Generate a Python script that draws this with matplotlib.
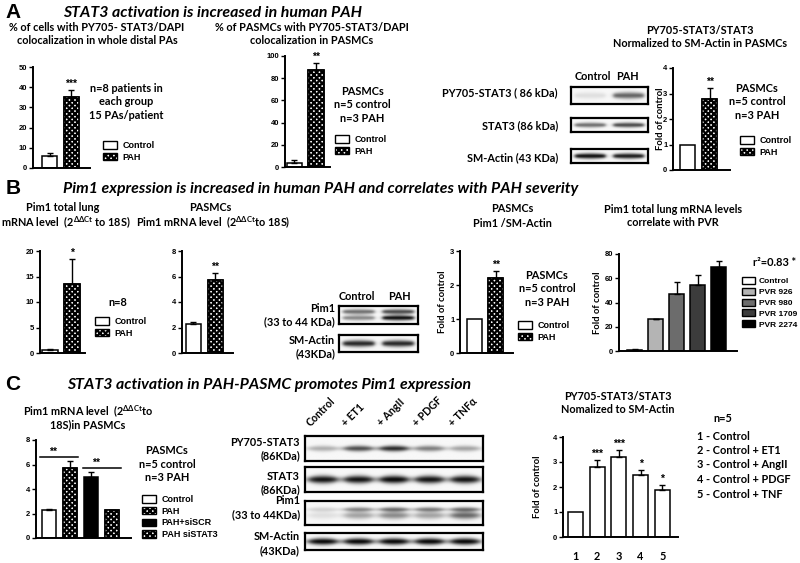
import numpy as np
import matplotlib
matplotlib.use("Agg")
import matplotlib.pyplot as plt
from matplotlib.patches import Patch
from matplotlib.font_manager import FontProperties

W, H = 800, 563

# ---- data -------------------------------------------------------------
A1_LABELS = ["Control", "PAH"]
A1_VALUES = [6.0, 35.0]
A1_ERR = [1.5, 3.5]
A1_STARS = ["", "***"]

A2_VALUES = [4.0, 87.0]
A2_ERR = [2.0, 7.0]
A2_STARS = ["", "**"]

A3_VALUES = [1.0, 2.78]
A3_ERR = [0.0, 0.45]
A3_STARS = ["", "**"]

B1_VALUES = [0.5, 13.5]
B1_ERR = [0.2, 5.0]
B1_STARS = ["", "*"]

B2_VALUES = [2.25, 5.75]
B2_ERR = [0.15, 0.5]
B2_STARS = ["", "**"]

B3_VALUES = [1.0, 2.2]
B3_ERR = [0.0, 0.22]
B3_STARS = ["", "**"]

B4_LABELS = ["Control", "PVR 926", "PVR 980", "PVR 1709", "PVR 2274"]
B4_VALUES = [1.0, 26.0, 47.0, 54.5, 69.0]
B4_ERR = [0.3, 0.5, 9.5, 8.0, 5.0]

C1_LABELS = ["Control", "PAH", "PAH+siSCR", "PAH siSTAT3"]
C1_VALUES = [2.25, 5.75, 5.0, 2.25]
C1_ERR = [0.15, 0.5, 0.35, 0.06]

C3_TICKS = ["1", "2", "3", "4", "5"]
C3_VALUES = [1.0, 2.8, 3.2, 2.5, 1.9]
C3_ERR = [0.0, 0.28, 0.3, 0.18, 0.2]
C3_STARS = ["", "***", "***", "*", "*"]
C3_KEY = ["1 - Control", "2 - Control + ET1", "3 - Control + AngII",
          "4 - Control + PDGF", "5 - Control + TNF"]

# western blot band intensities per lane (0 = none, 1 = saturated)
A_BLOT_PY = [0.10, 0.60]
A_BLOT_STAT3 = [0.55, 0.70]
A_BLOT_ACTIN = [0.95, 0.90]
B_BLOT_PIM1_UP = [0.55, 0.70]
B_BLOT_PIM1_LOW = [0.45, 0.95]
B_BLOT_ACTIN = [0.85, 0.85]
C_LANES = ["Control", "+ ET1", "+ AngII", "+ PDGF", "+ TNF\u03b1"]
C_BLOT_PY = [0.30, 0.70, 0.85, 0.50, 0.35]
C_BLOT_STAT3 = [0.95, 0.95, 1.00, 0.95, 0.95]
C_BLOT_PIM1_UP = [0.15, 0.45, 0.55, 0.50, 0.55]
C_BLOT_PIM1_LOW = [0.10, 0.35, 0.45, 0.35, 0.60]
C_BLOT_ACTIN = [1.0, 1.0, 1.0, 1.0, 1.0]

# ---- style ------------------------------------------------------------
plt.rcParams["font.family"] = ["Lato", "DejaVu Sans"]
plt.rcParams["font.weight"] = "bold"
plt.rcParams["mathtext.fontset"] = "custom"
plt.rcParams["mathtext.rm"] = "Lato:bold"
plt.rcParams["mathtext.bf"] = "Lato:bold"
plt.rcParams["mathtext.it"] = "Lato:bold:italic"
plt.rcParams["hatch.linewidth"] = 1.6

TICK_FONT = FontProperties(family="Liberation Sans", weight="bold", size=5.5)
LEG_FONT = FontProperties(family="Liberation Sans", weight="bold", size=6.5)
LEG_FONT_SMALL = FontProperties(family="Liberation Sans", weight="bold", size=6.0)
STAR_FONT = FontProperties(family="Liberation Sans", weight="bold", size=7.5)
CHECK = "xxxxxx"
DELTA = r"$2^{\mathbf{\Delta\Delta Ct}}$"
SUB = 7.8      # sub-panel titles
NOTE = 7.9     # n= annotations
BLOT = 7.8     # blot labels
TITLE = 11.4


def px_axes(fig, x0, y0, x1, y1):
    return fig.add_axes([x0 / W, 1 - y1 / H, (x1 - x0) / W, (y1 - y0) / H])


def ftext(fig, x, y, s, **kw):
    kw.setdefault("ha", "center")
    kw.setdefault("va", "center")
    kw.setdefault("fontweight", "bold")
    return fig.text(x / W, 1 - y / H, s, **kw)


def bar_panel(fig, box, values, errs, ylim, yticks, xlim, faces, hatches,
              stars=None, ylabel=None, labelpad=2, width=0.7):
    ax = px_axes(fig, *box)
    x = np.arange(len(values))
    ax.bar(x, values, width=width, color=faces, edgecolor="black",
           linewidth=1.1, zorder=2)
    for xi, v, h in zip(x, values, hatches):
        if h:
            ax.bar(xi, v, width=width, color="white", edgecolor="black",
                   linewidth=1.1, hatch=h, zorder=2)
    for xi, v, e in zip(x, values, errs):
        if e > 0:
            ax.errorbar(xi, v, yerr=[[0], [e]], fmt="none", ecolor="black",
                        elinewidth=1.0, capsize=2.3, capthick=1.0, zorder=3)
    if stars:
        for xi, v, e, s in zip(x, values, errs, stars):
            if s:
                ax.text(xi, v + e + 0.01 * ylim, s, ha="center", va="bottom",
                        fontproperties=STAR_FONT)
    ax.set_ylim(0, ylim)
    ax.set_xlim(*xlim)
    ax.set_yticks(yticks)
    ax.set_yticklabels([str(t) for t in yticks], fontproperties=TICK_FONT)
    ax.set_xticks([])
    for side in ("top", "right"):
        ax.spines[side].set_visible(False)
    for side in ("left", "bottom"):
        ax.spines[side].set_linewidth(1.4)
    ax.tick_params(axis="y", length=3, width=1.0, pad=1)
    ax.patch.set_alpha(0)
    if ylabel:
        ax.set_ylabel(ylabel, fontsize=6.8, fontweight="bold", labelpad=labelpad)
    return ax


def add_legend(fig, x, y, labels, faces, hatches, prop=LEG_FONT, textpad=0.6):
    handles = [Patch(facecolor=f, edgecolor="black", hatch=h, linewidth=1.0,
                     label=l) for l, f, h in zip(labels, faces, hatches)]
    fig.legend(handles=handles, loc="upper left",
               bbox_to_anchor=(x / W, 1 - y / H), frameon=False, prop=prop,
               handlelength=1.6, handleheight=0.9, handletextpad=textpad,
               labelspacing=0.3, borderpad=0, borderaxespad=0)


def sigmoid(z):
    return 1.0 / (1.0 + np.exp(-z))


def draw_blot(fig, box, bands, n_lanes, lane_fill=0.8):
    ax = px_axes(fig, *box)
    ny, nx = 60, 400
    yy = np.linspace(0, 1, ny)[:, None]
    xx = np.linspace(0, 1, nx)[None, :]
    img = np.full((ny, nx), 0.03)
    for levels, yc, thick in bands:
        for i, lv in enumerate(levels):
            cx = (i + 0.5) / n_lanes
            half = lane_fill / (2 * n_lanes)
            prof_x = sigmoid((xx - (cx - half)) / 0.015) * sigmoid(((cx + half) - xx) / 0.015)
            t = thick * (0.75 + 0.25 * np.cos(np.clip((xx - cx) / half, -1, 1) * np.pi / 2))
            prof_y = np.exp(-((yy - yc) / t) ** 2)
            img += lv * prof_x * prof_y
    ax.imshow(np.clip(img, 0, 1), cmap="gray_r", vmin=0, vmax=1.05,
              aspect="auto", extent=(0, 1, 1, 0), interpolation="bilinear")
    ax.set_xticks([])
    ax.set_yticks([])
    for s in ax.spines.values():
        s.set_linewidth(1.6)
    return ax


fig = plt.figure(figsize=(8, 5.63), dpi=100)

# ---- panel A ----------------------------------------------------------
ftext(fig, 13, 13, "A", fontsize=15, family="Liberation Sans")
ftext(fig, 63, 13, "STAT3 activation is increased in human PAH", ha="left",
      fontsize=TITLE, style="italic")

ftext(fig, 97, 34, "% of cells with PY705- STAT3/DAPI\ncolocalization in whole distal PAs",
      fontsize=SUB, linespacing=1.3)
bar_panel(fig, (33, 67, 90, 168), A1_VALUES, A1_ERR, 50, [0, 10, 20, 30, 40, 50],
          (-0.77, 1.88), ["white", "white"], [None, CHECK], A1_STARS)
ftext(fig, 126, 102, "n=8 patients in\neach group\n15 PAs/patient", fontsize=NOTE,
      linespacing=1.3)
add_legend(fig, 103, 141, A1_LABELS, ["white", "white"], [None, CHECK])

ftext(fig, 312, 34, "% of PASMCs with PY705-STAT3/DAPI\ncolocalization in PASMCs",
      fontsize=SUB, linespacing=1.3)
bar_panel(fig, (285, 56, 330, 167), A2_VALUES, A2_ERR, 100, [0, 20, 40, 60, 80, 100],
          (-0.44, 1.65), ["white", "white"], [None, CHECK], A2_STARS)
ftext(fig, 362, 105, "PASMCs\nn=5 control\nn=3 PAH", fontsize=NOTE, linespacing=1.25)
add_legend(fig, 335, 135, A1_LABELS, ["white", "white"], [None, CHECK])

for txt, y in [("PY705-STAT3 ( 86 kDa)", 93), ("STAT3 (86 kDa)", 126),
               ("SM-Actin (43 KDa)", 158)]:
    ftext(fig, 558, y, txt, ha="right", fontsize=BLOT)
ftext(fig, 593, 77, "Control", fontsize=BLOT)
ftext(fig, 627, 77, "PAH", fontsize=BLOT)
draw_blot(fig, (571, 87, 648, 104), [(A_BLOT_PY, 0.5, 0.2)], 2)
draw_blot(fig, (571, 118, 648, 132), [(A_BLOT_STAT3, 0.5, 0.18)], 2)
draw_blot(fig, (571, 149, 648, 163), [(A_BLOT_ACTIN, 0.5, 0.2)], 2)

ftext(fig, 700, 37, "PY705-STAT3/STAT3\nNormalized to SM-Actin in PASMCs",
      fontsize=SUB, linespacing=1.3)
bar_panel(fig, (673, 68, 730, 170), A3_VALUES, A3_ERR, 4, [0, 1, 2, 3, 4],
          (-0.66, 1.93), ["white", "white"], [None, CHECK], A3_STARS,
          ylabel="Fold of control", labelpad=-1)
ftext(fig, 757, 102, "PASMCs\nn=5 control\nn=3 PAH", fontsize=NOTE, linespacing=1.25)
add_legend(fig, 740, 136, A1_LABELS, ["white", "white"], [None, CHECK])

# ---- panel B ----------------------------------------------------------
ftext(fig, 13, 189, "B", fontsize=15, family="Liberation Sans")
ftext(fig, 63, 189, "Pim1 expression is increased in human PAH and correlates with PAH severity",
      ha="left", fontsize=TITLE, style="italic")

ftext(fig, 63, 208, "Pim1 total lung", fontsize=SUB)
ftext(fig, 66, 223, "mRNA level  (" + DELTA + " to 18S)", fontsize=SUB)
bar_panel(fig, (40, 251, 85, 353), B1_VALUES, B1_ERR, 20, [0, 5, 10, 15, 20],
          (-0.45, 1.6), ["white", "white"], [None, CHECK], B1_STARS)
ftext(fig, 118, 303, "n=8", fontsize=NOTE)
add_legend(fig, 95, 317, A1_LABELS, ["white", "white"], [None, CHECK])

ftext(fig, 210, 208, "PASMCs", fontsize=SUB)
ftext(fig, 213, 223, "Pim1 mRNA level  (" + DELTA + "to 18S)", fontsize=SUB)
bar_panel(fig, (182, 251, 233, 353), B2_VALUES, B2_ERR, 8, [0, 2, 4, 6, 8],
          (-0.52, 1.8), ["white", "white"], [None, CHECK], B2_STARS)

ftext(fig, 357, 297, "Control", fontsize=BLOT)
ftext(fig, 399, 297, "PAH", fontsize=BLOT)
for txt, y in [("Pim1", 308), ("(33 to 44 KDa)", 322), ("SM-Actin", 340), ("(43KDa)", 354)]:
    ftext(fig, 335, y, txt, ha="right", fontsize=BLOT)
draw_blot(fig, (339, 306, 418, 324),
          [(B_BLOT_PIM1_UP, 0.35, 0.14), (B_BLOT_PIM1_LOW, 0.68, 0.14)], 2)
draw_blot(fig, (339, 335, 418, 352), [(B_BLOT_ACTIN, 0.5, 0.2)], 2)

ftext(fig, 512, 209, "PASMCs", fontsize=SUB)
ftext(fig, 512, 223, "Pim1 /SM-Actin", fontsize=SUB)
bar_panel(fig, (460, 251, 513, 353), B3_VALUES, B3_ERR, 3, [0, 1, 2, 3],
          (-0.69, 1.83), ["white", "white"], [None, CHECK], B3_STARS,
          ylabel="Fold of control")
ftext(fig, 547, 289, "PASMCs\nn=5 control\nn=3 PAH", fontsize=NOTE, linespacing=1.25)
add_legend(fig, 518, 321, A1_LABELS, ["white", "white"], [None, CHECK])

B4_FACES = ["white", "#b4b4b4", "#6c6c6c", "#3c3c3c", "black"]
ftext(fig, 673, 216, "Pim1 total lung mRNA levels\ncorrelate with PVR",
      fontsize=SUB, linespacing=1.3)
bar_panel(fig, (619, 254, 737, 351), B4_VALUES, B4_ERR, 80, [0, 20, 40, 60, 80],
          (-0.74, 4.88), B4_FACES, [None] * 5, ylabel="Fold of control")
ftext(fig, 775, 262, "r\u00b2=0.83 *", fontsize=NOTE)
add_legend(fig, 742, 277, B4_LABELS, B4_FACES, [None] * 5,
           prop=LEG_FONT_SMALL, textpad=0.45)

# ---- panel C ----------------------------------------------------------
ftext(fig, 13, 385, "C", fontsize=15, family="Liberation Sans")
ftext(fig, 67, 385, "STAT3 activation in PAH-PASMC promotes Pim1 expression",
      ha="left", fontsize=TITLE, style="italic")

ftext(fig, 23, 412, "Pim1 mRNA level  (" + DELTA + "to", ha="left", fontsize=SUB)
ftext(fig, 88, 425, "18S)in PASMCs", fontsize=SUB)
C1_FACES = ["white", "white", "black", "white"]
C1_HATCH = [None, CHECK, None, CHECK]
ax_c1 = bar_panel(fig, (36, 440, 131, 538), C1_VALUES, C1_ERR, 8, [0, 2, 4, 6, 8],
                  (-0.62, 3.9), C1_FACES, C1_HATCH)
for (x0, x1, y), s in [((-0.43, 1.38, 6.6), "**"), ((1.62, 3.43, 5.7), "**")]:
    ax_c1.plot([x0, x1], [y, y], color="black", lw=1.1, clip_on=False)
    ax_c1.text((x0 + x1) / 2 - 0.3, y + 0.05, s, ha="center", va="bottom",
               fontproperties=STAR_FONT)
ftext(fig, 167, 464, "PASMCs\nn=5 control\nn=3 PAH", fontsize=NOTE, linespacing=1.25)
add_legend(fig, 142, 495, C1_LABELS, C1_FACES, C1_HATCH)

lane_x = np.linspace(305, 483, 2 * len(C_LANES) + 1)[1::2]
for lx, lab in zip(lane_x, C_LANES):
    ftext(fig, lx - 11, 428, lab, ha="left", va="bottom", rotation=45,
          rotation_mode="anchor", fontsize=7.6)
for txt, y in [("PY705-STAT3", 443), ("(86KDa)", 456), ("STAT3", 477), ("(86KDa)", 490),
               ("Pim1", 501), ("(33 to 44KDa)", 515), ("SM-Actin", 537), ("(43KDa)", 551)]:
    ftext(fig, 300, y, txt, ha="right", fontsize=BLOT)
draw_blot(fig, (305, 436, 483, 461), [(C_BLOT_PY, 0.5, 0.12)], 5)
draw_blot(fig, (305, 467, 483, 492), [(C_BLOT_STAT3, 0.5, 0.16)], 5)
draw_blot(fig, (305, 501, 483, 525),
          [(C_BLOT_PIM1_UP, 0.35, 0.1), (C_BLOT_PIM1_LOW, 0.6, 0.16)], 5)
draw_blot(fig, (305, 533, 483, 550), [(C_BLOT_ACTIN, 0.5, 0.2)], 5)

ftext(fig, 618, 403, "PY705-STAT3/STAT3\nNomalized to SM-Actin", fontsize=SUB,
      linespacing=1.3)
ax_c3 = bar_panel(fig, (563, 437, 678, 537), C3_VALUES, C3_ERR, 4, [0, 1, 2, 3, 4],
                  (-0.57, 4.72), ["white"] * 5, [None] * 5, C3_STARS,
                  ylabel="Fold of control", labelpad=8)
ax_c3.set_xticks(np.arange(len(C3_TICKS)))
ax_c3.set_xticklabels(C3_TICKS, fontsize=7.8, fontweight="bold")
ax_c3.tick_params(axis="x", length=0, pad=10)
ftext(fig, 723, 419, "n=5", fontsize=NOTE)
for i, line in enumerate(C3_KEY):
    ftext(fig, 697, 436 + 14.5 * i, line, ha="left", fontsize=NOTE)

fig.savefig("out.png", dpi=100)
